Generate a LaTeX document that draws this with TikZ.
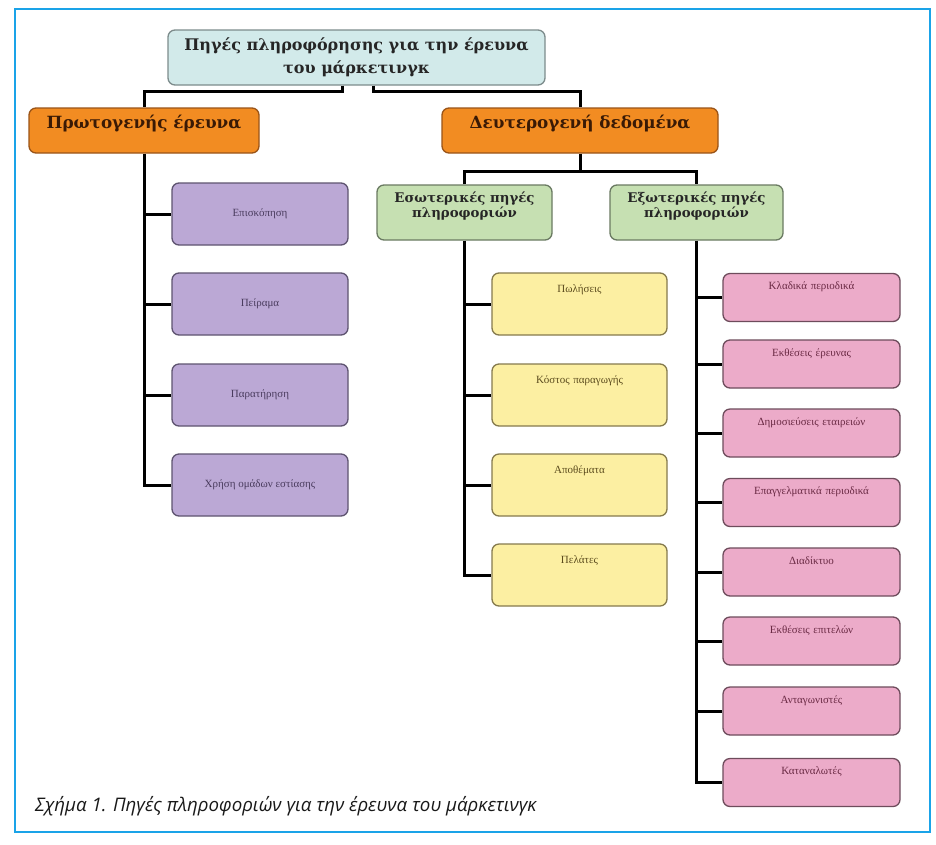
\documentclass[tikz,border=0pt]{standalone}
\usepackage{fontspec}
\setmainfont{Liberation Serif}
\newfontfamily\hdfont{DejaVu Serif}
\newfontfamily\capfont{Open Sans}
\definecolor{framec}{HTML}{1AA3E8}
\definecolor{topfill}{HTML}{D2EAEA}
\definecolor{topdraw}{HTML}{7D8C8C}
\definecolor{orfill}{HTML}{F28C22}
\definecolor{ordraw}{HTML}{9A5418}
\definecolor{ortext}{HTML}{3A1A05}
\definecolor{grfill}{HTML}{C6E0B2}
\definecolor{grdraw}{HTML}{6A7A62}
\definecolor{pufill}{HTML}{BBA8D5}
\definecolor{pudraw}{HTML}{5E5470}
\definecolor{putext}{HTML}{4A3C5E}
\definecolor{yefill}{HTML}{FCEFA2}
\definecolor{yedraw}{HTML}{857A4E}
\definecolor{yetext}{HTML}{5C4C1E}
\definecolor{pkfill}{HTML}{ECABC9}
\definecolor{pkdraw}{HTML}{6E4C5C}
\definecolor{pktext}{HTML}{6A2A44}
\begin{document}
\begin{tikzpicture}[x=1pt,y=-1pt,
  box/.style={draw, rounded corners=7pt, line width=1.3pt, inner sep=0pt, align=center},
  topbox/.style={box, fill=topfill, draw=topdraw, text=black!85,
     font=\hdfont\bfseries\fontsize{16}{22.5}\selectfont},
  orbox/.style={box, fill=orfill, draw=ordraw, text=ortext,
     font=\hdfont\bfseries\fontsize{16.8}{19}\selectfont,
     text height=20pt, text depth=25pt},
  grbox/.style={box, fill=grfill, draw=grdraw, text=black!85,
     font=\hdfont\bfseries\fontsize{13.3}{15}\selectfont},
  pubox/.style={box, fill=pufill, draw=pudraw, text=putext,
     font=\fontsize{11}{13}\selectfont, minimum width=176pt, minimum height=62pt},
  yebox/.style={box, fill=yefill, draw=yedraw, text=yetext,
     font=\fontsize{11}{13}\selectfont, text width=175pt,
     text height=19pt, text depth=43pt},
  pkbox/.style={box, fill=pkfill, draw=pkdraw, text=pktext,
     font=\fontsize{11}{13}\selectfont, text width=177pt,
     text height=16pt, text depth=32pt},
  conn/.style={draw=black, line width=3pt}
]
\useasboundingbox (0,0) rectangle (936,844);
\fill[white] (0,0) rectangle (936,844);
\draw[framec, line width=2.2pt] (15,9) rectangle (930,832);

% level 0
\node[topbox, minimum width=377pt, minimum height=55pt] (top) at (356.5,57.5)
  {Πηγές πληροφόρησης για την έρευνα\\του μάρκετινγκ};

% level 1
\node[orbox, minimum width=230pt] (o1) at (144,130.5) {Πρωτογενής έρευνα};
\node[orbox, minimum width=276pt] (o2) at (580,130.5) {Δευτερογενή δεδομένα};

% level 2
\node[grbox, minimum width=175pt, minimum height=55pt] (g1) at (464.5,212.5)
  {Εσωτερικές πηγές\\πληροφοριών\\[0pt]\mbox{}};
\node[grbox, minimum width=173pt, minimum height=55pt] (g2) at (696.5,212.5)
  {Εξωτερικές πηγές\\πληροφοριών\\[0pt]\mbox{}};

% purple
\node[pubox] (p1) at (260,214) {Επισκόπηση};
\node[pubox] (p2) at (260,304) {Πείραμα};
\node[pubox] (p3) at (260,395) {Παρατήρηση};
\node[pubox] (p4) at (260,485) {Χρήση ομάδων εστίασης};

% yellow
\node[yebox] (y1) at (579.5,304) {Πωλήσεις};
\node[yebox] (y2) at (579.5,395) {Κόστος παραγωγής};
\node[yebox] (y3) at (579.5,485) {Αποθέματα};
\node[yebox] (y4) at (579.5,575) {Πελάτες};

% pink
\node[pkbox] (k1) at (811.5,297.5) {Κλαδικά περιοδικά};
\node[pkbox] (k2) at (811.5,364) {Εκθέσεις έρευνας};
\node[pkbox] (k3) at (811.5,433) {Δημοσιεύσεις εταιρειών};
\node[pkbox] (k4) at (811.5,502.5) {Επαγγελματικά περιοδικά};
\node[pkbox] (k5) at (811.5,572) {Διαδίκτυο};
\node[pkbox] (k6) at (811.5,641) {Εκθέσεις επιτελών};
\node[pkbox] (k7) at (811.5,711) {Ανταγωνιστές};
\node[pkbox] (k8) at (811.5,782.5) {Καταναλωτές};

% connectors level 0 -> 1
\coordinate (tl) at ([xshift=-14.5pt]top.south);
\coordinate (tr) at ([xshift=16.5pt]top.south);
\draw[conn] (tl) -- ++(0,6) -| (o1.north);
\draw[conn] (tr) -- ++(0,6) -| (o2.north);

% level 1 -> 2
\coordinate (bus) at (580,171);
\draw[conn] (o2.south) -- (bus);
\draw[conn] (g1.north) |- (bus) -| (g2.north);

% purple branch
\draw[conn] (o1.south) |- (p4.west);
\foreach \n in {p1,p2,p3} \draw[conn] (o1.south |- \n.west) -- (\n.west);

% yellow branch
\draw[conn] (g1.south) |- (y4.west);
\foreach \n in {y1,y2,y3} \draw[conn] (g1.south |- \n.west) -- (\n.west);

% pink branch
\draw[conn] (g2.south) |- (k8.west);
\foreach \n in {k1,k2,k3,k4,k5,k6,k7} \draw[conn] (g2.south |- \n.west) -- (\n.west);

% caption
\node[anchor=base west, inner sep=0pt, text=black!90,
  font=\capfont\itshape\fontsize{18.7}{22}\selectfont] (cap) at (35,811)
  {Σχήμα 1. Πηγές πληροφοριών για την έρευνα του μάρκετινγκ};
\end{tikzpicture}
\end{document}
